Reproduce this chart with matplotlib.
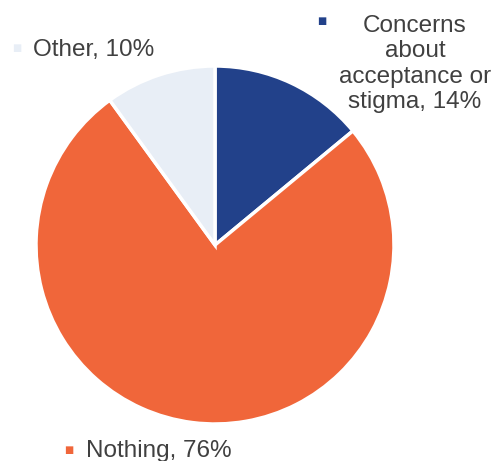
import matplotlib
matplotlib.use("Agg")
import matplotlib.pyplot as plt

categories = ["Concerns about acceptance or stigma", "Nothing", "Other"]
values = [14, 76, 10]
label_texts = ["Concerns\nabout\nacceptance or\nstigma, 14%", "Nothing, 76%", "Other, 10%"]
colors = ["#22418A", "#F0663A", "#E8EEF6"]

W, H = 492, 461
fig = plt.figure(figsize=(W / 100, H / 100), dpi=100)
plt.rcParams['font.family'] = ['Liberation Sans', 'DejaVu Sans']

cx, cy, r = 215, 245, 179
ax = fig.add_axes([(cx - r) / W, (H - cy - r) / H, 2 * r / W, 2 * r / H])
ax.pie(values, colors=colors, startangle=90, counterclock=False,
       wedgeprops=dict(edgecolor="white", linewidth=2.5), radius=1.0)
ax.set_xlim(-1, 1)
ax.set_ylim(-1, 1)
ax.set_aspect("equal")
ax.axis("off")

txt_color = "#404040"
fs = 17.5

def fx(px):
    return px / W

def fy(py):
    return 1 - py / H

# Concerns label
fig.text(fx(322), fy(21), "■", color=colors[0], fontsize=7, ha="center", va="center",
         family=['DejaVu Sans'])
fig.text(fx(415), fy(64), label_texts[0], color=txt_color, fontsize=fs, ha="center",
         va="center", linespacing=1.2, multialignment="center")

# Other label
fig.text(fx(17), fy(48), "■", color=colors[2], fontsize=7, ha="center", va="center",
         family=['DejaVu Sans'])
fig.text(fx(33), fy(50), label_texts[2], color=txt_color, fontsize=fs, ha="left", va="center")

# Nothing label
fig.text(fx(69), fy(450), "■", color=colors[1], fontsize=7, ha="center", va="center",
         family=['DejaVu Sans'])
fig.text(fx(86), fy(451), label_texts[1], color=txt_color, fontsize=fs, ha="left", va="center")

fig.savefig("out.png", dpi=100, facecolor="white")
